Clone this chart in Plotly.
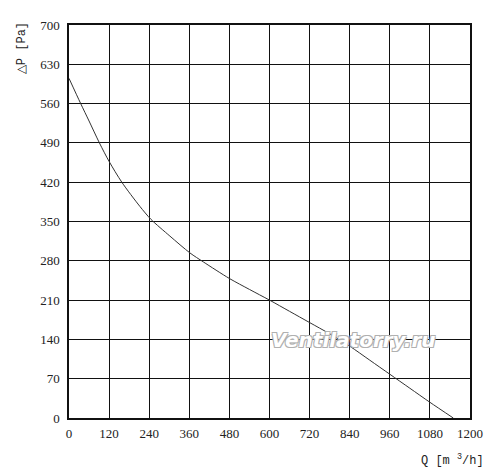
import plotly.graph_objects as go

q_vals = [0, 35, 60, 91, 120, 158, 212, 245, 302, 362, 402, 480, 540, 600, 660, 720, 780, 840, 900, 960, 1020, 1080, 1150]
p_vals = [605, 560, 529, 490, 457, 420, 377, 354, 324, 294, 278, 248.5, 229, 210, 190, 170, 150, 128, 103, 78, 53, 28, 0]

x_ticks = [0, 120, 240, 360, 480, 600, 720, 840, 960, 1080, 1200]
y_ticks = [0, 70, 140, 210, 280, 350, 420, 490, 560, 630, 700]

font_family = "Liberation Serif"
title_family = "Liberation Mono"

fig = go.Figure()
fig.add_trace(go.Scatter(x=q_vals, y=p_vals, mode="lines",
                         line=dict(color="#333333", width=1, shape="spline", smoothing=0.8),
                         hoverinfo="skip", showlegend=False))

fig.update_layout(
    width=500, height=476,
    margin=dict(l=61, r=38, t=10, b=66),
    paper_bgcolor="white", plot_bgcolor="white",
    font=dict(family=font_family, size=13, color="#222222"),
    xaxis=dict(range=[0, 1200], tickvals=x_ticks, ticktext=[str(v) for v in x_ticks],
               showgrid=True, gridcolor="#111111", gridwidth=1.3,
               showline=True, linecolor="#111111", linewidth=1.5, mirror=True,
               zeroline=False, ticks="", ticklen=0, ticklabelstandoff=3,
               tickfont=dict(size=13)),
    yaxis=dict(range=[0, 700], tickvals=y_ticks, ticktext=[str(v) for v in y_ticks],
               showgrid=True, gridcolor="#111111", gridwidth=1.3,
               showline=True, linecolor="#111111", linewidth=1.5, mirror=True,
               zeroline=False, ticks="", ticklen=0, ticklabelstandoff=5,
               tickfont=dict(size=13)),
    annotations=[
        dict(text="△P [Pa]", xref="paper", yref="paper", x=-0.117, y=1.0125,
             xanchor="center", yanchor="top", textangle=-90, showarrow=False,
             font=dict(size=12, family=title_family)),
        dict(text="Q [m <sup>3</sup>/h]", xref="paper", yref="paper", x=1.04, y=-0.1075,
             xanchor="right", yanchor="middle", showarrow=False,
             font=dict(size=12, family=title_family)),
        dict(text="<i><b>Ventilatorry.ru</b></i>", xref="x", yref="y", x=851, y=139,
             xanchor="center", yanchor="middle", showarrow=False,
             font=dict(size=20, family="DejaVu Sans", color="white",
                       shadow="-1px -1px 0 #b0b0b0, 1px -1px 0 #b0b0b0, -1px 1px 0 #b0b0b0, 1px 1px 0 #b0b0b0")),
    ],
)

fig.write_html("out.html")
